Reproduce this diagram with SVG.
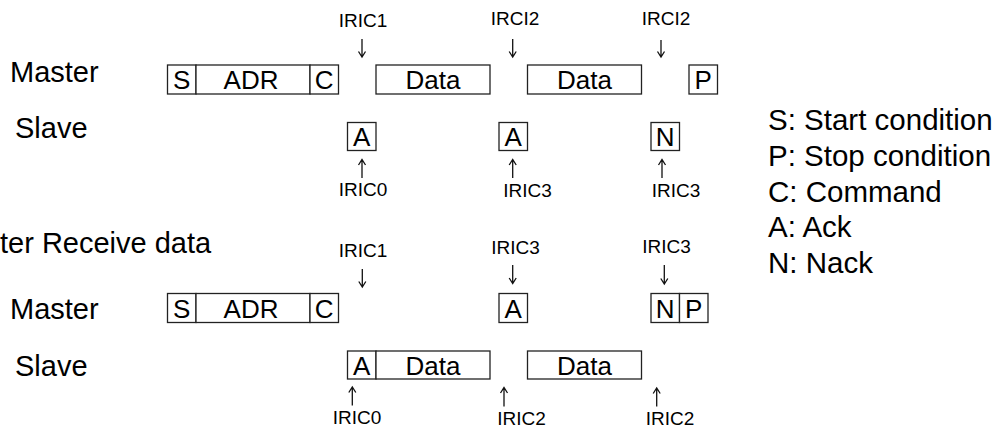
<svg xmlns="http://www.w3.org/2000/svg" width="1000" height="432" viewBox="0 0 1000 432">
<style>
text{font-family:"Liberation Sans",Arial,sans-serif;fill:#000}
.side{font-size:29px}
.lbl{font-size:26px;text-anchor:middle}
.irq{font-size:19px;text-anchor:middle}
.leg{font-size:29.5px}
.box{fill:#fff;stroke:#222;stroke-width:1.3}
.arr{fill:none;stroke:#111;stroke-width:1.3}
</style>
<rect width="1000" height="432" fill="#fff"/>
<g id="labels">
<text class="side" x="10" y="82">Master</text>
<text class="side" x="15" y="138">Slave</text>
<text class="side" x="0" y="253">ter Receive data</text>
<text class="side" x="10" y="319">Master</text>
<text class="side" x="15" y="376">Slave</text>
</g>
<g id="legend">
<text class="leg" x="768" y="130">S: Start condition</text>
<text class="leg" x="768" y="166">P: Stop condition</text>
<text class="leg" x="768" y="201.5">C: Command</text>
<text class="leg" x="768" y="237">A: Ack</text>
<text class="leg" x="768" y="272.5">N: Nack</text>
</g>
<g id="row1-master">
<rect class="box" x="167.5" y="65" width="28.5" height="29"/><text class="lbl" x="181.7" y="89">S</text>
<rect class="box" x="196" y="65" width="114" height="29"/><text class="lbl" x="251" y="89">ADR</text>
<rect class="box" x="310" y="65" width="28.5" height="29"/><text class="lbl" x="324.2" y="89">C</text>
<rect class="box" x="376" y="65" width="114" height="29"/><text class="lbl" x="433" y="89">Data</text>
<rect class="box" x="527.5" y="65" width="114" height="29"/><text class="lbl" x="584.5" y="89">Data</text>
<rect class="box" x="689" y="65" width="28.5" height="29"/><text class="lbl" x="703.2" y="89">P</text>
</g>
<g id="row1-slave">
<rect class="box" x="347.5" y="122.5" width="28.5" height="28"/><text class="lbl" x="361.7" y="146">A</text>
<rect class="box" x="499" y="122.5" width="28.5" height="28"/><text class="lbl" x="513.2" y="146">A</text>
<rect class="box" x="651" y="122.5" width="28.5" height="28"/><text class="lbl" x="665.2" y="146">N</text>
</g>
<g id="row2-master">
<rect class="box" x="167.5" y="293.5" width="28.5" height="29"/><text class="lbl" x="181.7" y="317.5">S</text>
<rect class="box" x="196" y="293.5" width="114" height="29"/><text class="lbl" x="251" y="317.5">ADR</text>
<rect class="box" x="310" y="293.5" width="28.5" height="29"/><text class="lbl" x="324.2" y="317.5">C</text>
<rect class="box" x="499" y="293.5" width="28.5" height="29"/><text class="lbl" x="513.2" y="317.5">A</text>
<rect class="box" x="651" y="293.5" width="28.5" height="29"/><text class="lbl" x="665.2" y="317.5">N</text>
<rect class="box" x="679.5" y="293.5" width="28.5" height="29"/><text class="lbl" x="693.7" y="317.5">P</text>
</g>
<g id="row2-slave">
<rect class="box" x="347.5" y="351" width="28.5" height="28"/><text class="lbl" x="361.7" y="374.5">A</text>
<rect class="box" x="376" y="351" width="114" height="28"/><text class="lbl" x="433" y="374.5">Data</text>
<rect class="box" x="527.5" y="351" width="114" height="28"/><text class="lbl" x="584.5" y="374.5">Data</text>
</g>
<g id="irq-labels">
<text class="irq" x="363" y="27">IRIC1</text>
<text class="irq" x="515" y="25">IRCI2</text>
<text class="irq" x="666" y="24.5">IRCI2</text>
<text class="irq" x="363" y="196">IRIC0</text>
<text class="irq" x="527.5" y="196.5">IRIC3</text>
<text class="irq" x="676" y="196.5">IRIC3</text>
<text class="irq" x="363" y="256.5">IRIC1</text>
<text class="irq" x="515.5" y="253.5">IRIC3</text>
<text class="irq" x="666.5" y="252.5">IRIC3</text>
<text class="irq" x="357" y="423.5">IRIC0</text>
<text class="irq" x="521.5" y="425">IRIC2</text>
<text class="irq" x="670" y="424.5">IRIC2</text>
</g>
<g id="connectors">
<path class="arr" d="M362 39V57M358.5 51.5L362 57L365.5 51.5"/>
<path class="arr" d="M512.7 39V57M509.2 51.5L512.7 57L516.2 51.5"/>
<path class="arr" d="M661 40V57M657.5 51.5L661 57L664.5 51.5"/>
<path class="arr" d="M362 178V159.5M358.5 165L362 159.5L365.5 165"/>
<path class="arr" d="M512.7 178V159.5M509.2 165L512.7 159.5L516.2 165"/>
<path class="arr" d="M662 178V159.5M658.5 165L662 159.5L665.5 165"/>
<path class="arr" d="M362.3 269V287M358.8 281.5L362.3 287L365.8 281.5"/>
<path class="arr" d="M512.7 265V283.5M509.2 278L512.7 283.5L516.2 278"/>
<path class="arr" d="M664.3 265V284M660.8 278.5L664.3 284L667.8 278.5"/>
<path class="arr" d="M352.3 405.5V387M348.8 392.5L352.3 387L355.8 392.5"/>
<path class="arr" d="M504 406.5V387.5M500.5 393L504 387.5L507.5 393"/>
<path class="arr" d="M656.7 406.5V388M653.2 393.5L656.7 388L660.2 393.5"/>
</g>
</svg>
